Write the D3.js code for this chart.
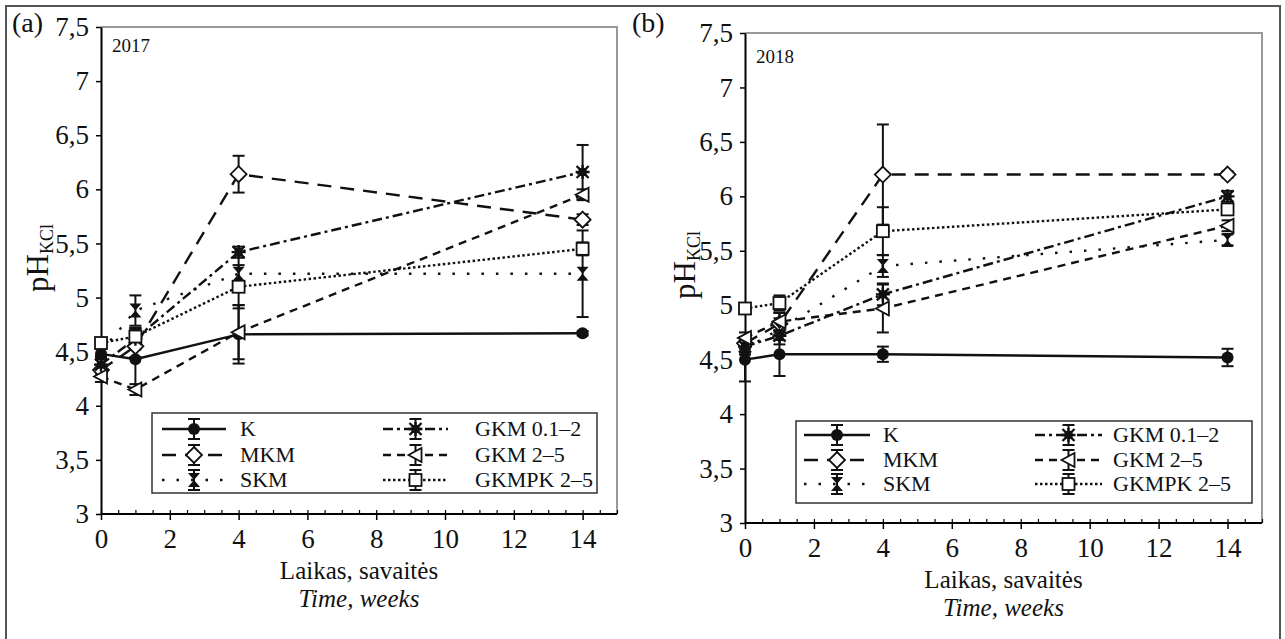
<!DOCTYPE html>
<meta charset="utf-8">
<script src="https://d3js.org/d3.v7.min.js"></script>
<style>
  body { margin: 0; background: #fff; }
  svg text { font-family: "Liberation Serif", "Times New Roman", serif; fill: #111; }
</style>
<div id="chart"></div>
<script>

// weeks and labels
var weeks = [0, 1, 4, 14];
var names = ["K", "MKM", "SKM", "GKM 0.1–2", "GKM 2–5", "GKMPK 2–5"];
var xTicks = [0, 2, 4, 6, 8, 10, 12, 14];
var yTicks = [3, 3.5, 4, 4.5, 5, 5.5, 6, 6.5, 7, 7.5];

// pH values per series (rows follow names), 2017
var ph2017 = [
  [4.48, 4.43, 4.66, 4.67],
  [4.33, 4.55, 6.14, 5.72],
  [4.50, 4.88, 5.22, 5.22],
  [4.38, 4.62, 5.42, 6.16],
  [4.27, 4.15, 4.68, 5.95],
  [4.58, 4.64, 5.10, 5.45]
];
var err2017 = [
  [0.05, 0.28, 0.27, 0.02],
  [0.05, 0.10, 0.17, 0.05],
  [0.05, 0.14, 0.15, 0.40],
  [0.08, 0.10, 0.05, 0.25],
  [0.05, 0.05, 0.25, 0.05],
  [0.04, 0.08, 0.20, 0.06]
];

// 2018
var ph2018 = [
  [4.50, 4.55, 4.55, 4.52],
  [4.65, 4.83, 6.20, 6.20],
  [4.60, 4.78, 5.36, 5.60],
  [4.62, 4.72, 5.10, 6.00],
  [4.70, 4.85, 4.97, 5.73],
  [4.97, 5.02, 5.68, 5.88]
];
var err2018 = [
  [0.20, 0.20, 0.07, 0.08],
  [0.05, 0.10, 0.46, 0.03],
  [0.05, 0.10, 0.10, 0.05],
  [0.05, 0.08, 0.10, 0.05],
  [0.05, 0.08, 0.22, 0.05],
  [0.03, 0.07, 0.22, 0.05]
];

// line styles per series
var dashes = ["none", "14,9", "2.5,12", "10,4,3,4", "8,6", "2.5,2.5"];

var FONT = "Liberation Serif";
var W = 1285, H = 639;
var svg = d3.select("#chart").append("svg")
  .attr("width", W).attr("height", H)
  .attr("font-family", FONT);

// outer frame
svg.append("rect")
  .attr("x", 6).attr("y", 6).attr("width", 1274).attr("height", 650)
  .attr("fill", "none").attr("stroke", "#555").attr("stroke-width", 2);

// marker drawing
function drawMarker(g, i, cx, cy) {
  var m = g.append("g").attr("transform", "translate(" + cx + "," + cy + ")");
  if (i === 0) {
    m.append("circle").attr("r", 6).attr("fill", "#111");
  } else if (i === 1) {
    m.append("path").attr("d", "M0,-8L8,0L0,8L-8,0Z")
      .attr("fill", "#fff").attr("stroke", "#111").attr("stroke-width", 1.8);
  } else if (i === 2) {
    m.append("path").attr("d", "M-6,-7L6,-7L-6,7L6,7Z").attr("fill", "#111");
  } else if (i === 3) {
    m.append("rect").attr("x", -4).attr("y", -4).attr("width", 8).attr("height", 8).attr("fill", "#111");
    m.append("path").attr("d", "M-6,-6L6,6M-6,6L6,-6M0,-7L0,7M-7,0L7,0")
      .attr("stroke", "#111").attr("stroke-width", 2.4);
  } else if (i === 4) {
    m.append("path").attr("d", "M-7,0L6,-7L6,7Z")
      .attr("fill", "#fff").attr("stroke", "#111").attr("stroke-width", 1.8);
  } else {
    m.append("rect").attr("x", -6).attr("y", -6).attr("width", 12).attr("height", 12)
      .attr("fill", "#fff").attr("stroke", "#111").attr("stroke-width", 1.8);
  }
}

function errBar(g, cx, y1, y2, cap) {
  g.append("line").attr("x1", cx).attr("x2", cx).attr("y1", y1).attr("y2", y2)
    .attr("stroke", "#111").attr("stroke-width", 2);
  [y1, y2].forEach(function(yy) {
    g.append("line").attr("x1", cx - cap).attr("x2", cx + cap).attr("y1", yy).attr("y2", yy)
      .attr("stroke", "#111").attr("stroke-width", 2);
  });
}

function panel(opt) {
  var g = svg.append("g");
  var x = d3.scaleLinear().domain([0, 15]).range([opt.x0, opt.x1]);
  var y = d3.scaleLinear().domain([3, 7.5]).range([opt.y0, opt.y1]);

  // plot frame (top and right)
  g.append("path")
    .attr("d", "M" + x(0) + "," + y(7.5) + "H" + x(15) + "V" + y(3))
    .attr("fill", "none").attr("stroke", "#999").attr("stroke-width", 2);

  // x axis: major ticks out, minor ticks in
  var xa = g.append("g").attr("transform", "translate(0," + y(3) + ")")
    .call(d3.axisBottom(x).tickValues(xTicks).tickSize(6).tickPadding(9).tickSizeOuter(0));
  xa.attr("font-family", FONT);
  xa.select(".domain").attr("d", "M" + x(0) + ",0H" + x(15)).attr("stroke-width", 2);
  xa.selectAll(".tick line").attr("stroke-width", 1.5);
  xa.selectAll(".tick text").style("font-size", "27px").attr("fill", "#111");
  g.append("g").attr("transform", "translate(0," + y(3) + ")")
    .call(d3.axisTop(x).ticks(30).tickSize(4).tickFormat(""))
    .call(function(a) { a.select(".domain").remove(); a.selectAll(".tick line").attr("stroke-width", 1.2); });

  // y axis
  var ya = g.append("g").attr("transform", "translate(" + x(0) + ",0)")
    .call(d3.axisLeft(y).tickValues(yTicks).tickSize(5).tickPadding(7).tickSizeOuter(0)
      .tickFormat(function(d) { return String(d).replace(".", ","); }));
  ya.attr("font-family", FONT);
  ya.select(".domain").attr("stroke-width", 2);
  ya.selectAll(".tick line").attr("stroke-width", 1.5);
  ya.selectAll(".tick text").style("font-size", "27px").attr("fill", "#111");

  // series lines
  opt.vals.forEach(function(row, i) {
    var line = d3.line().x(function(d, k) { return x(weeks[k]); }).y(function(d) { return y(d); });
    g.append("path").datum(row).attr("d", line)
      .attr("fill", "none").attr("stroke", "#111").attr("stroke-width", 2.4)
      .attr("stroke-dasharray", dashes[i]);
  });
  // error bars
  opt.vals.forEach(function(row, i) {
    row.forEach(function(v, k) {
      var e = opt.errs[i][k];
      errBar(g, x(weeks[k]), y(v + e), y(v - e), 6);
    });
  });
  // markers
  opt.vals.forEach(function(row, i) {
    row.forEach(function(v, k) { drawMarker(g, i, x(weeks[k]), y(v)); });
  });

  // legend
  var L = opt.leg;
  g.append("rect").attr("x", L.x).attr("y", L.y).attr("width", L.w).attr("height", L.h)
    .attr("fill", "#fff").attr("stroke", "#333").attr("stroke-width", 1.5);
  names.forEach(function(n, i) {
    var col = i < 3 ? 0 : 1, r = i % 3;
    var yy = L.rows[r];
    var lx = L.cols[col];
    g.append("line").attr("x1", lx[0]).attr("x2", lx[1]).attr("y1", yy).attr("y2", yy)
      .attr("stroke", "#111").attr("stroke-width", 2.4).attr("stroke-dasharray", dashes[i]);
    var mx = (lx[0] + lx[1]) / 2;
    errBar(g, mx, yy - 10, yy + 10, 6);
    drawMarker(g, i, mx, yy);
    g.append("text").attr("x", lx[2]).attr("y", yy + 7).style("font-size", "22px").text(n);
  });

  // texts
  g.append("text").attr("x", opt.tag[0]).attr("y", opt.tag[1]).style("font-size", "28px").text(opt.tagText);
  g.append("text").attr("x", x(0) + 11).attr("y", opt.yearY).style("font-size", "19px").text(opt.year);

  var yl = g.append("text")
    .attr("transform", "translate(" + opt.ylab[0] + "," + opt.ylab[1] + ") rotate(-90)")
    .attr("text-anchor", "middle").style("font-size", "31px");
  yl.append("tspan").text("pH");
  yl.append("tspan").attr("baseline-shift", "-30%").style("font-size", "18px").text("KCl");

  var cx = (x(0) + x(15)) / 2;
  g.append("text").attr("x", cx).attr("y", opt.xlabY).attr("text-anchor", "middle")
    .style("font-size", "25px").text("Laikas, savaitės");
  g.append("text").attr("x", cx).attr("y", opt.xlabY + 28).attr("text-anchor", "middle")
    .style("font-size", "25px").style("font-style", "italic").text("Time, weeks");
}

panel({
  x0: 101, x1: 617, y0: 514, y1: 27,
  vals: ph2017, errs: err2017,
  leg: { x: 152, y: 413, w: 445, h: 80, rows: [429, 455, 480],
         cols: [[162, 226, 240], [383, 448, 475]] },
  tag: [12, 32], tagText: "(a)", year: "2017", yearY: 52,
  ylab: [48, 258], xlabY: 579
});

panel({
  x0: 745, x1: 1262, y0: 523, y1: 33,
  vals: ph2018, errs: err2018,
  leg: { x: 796, y: 421, w: 456, h: 82, rows: [435, 460, 484],
         cols: [[804, 870, 883], [1035, 1102, 1113]] },
  tag: [632, 32], tagText: "(b)", year: "2018", yearY: 63,
  ylab: [695, 265], xlabY: 588
});

</script>
